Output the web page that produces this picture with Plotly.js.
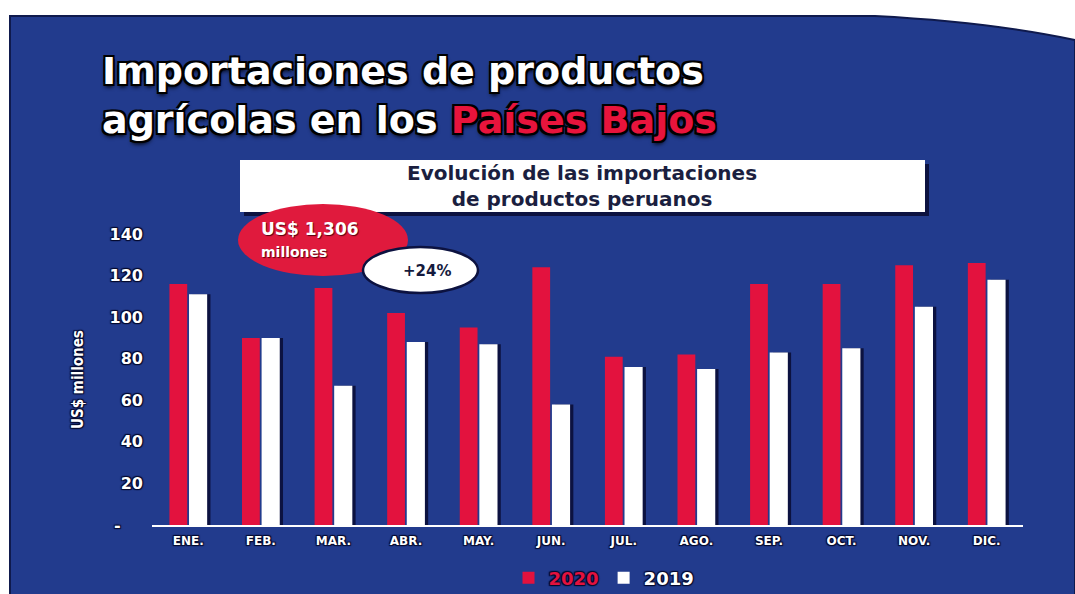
<!DOCTYPE html>
<html>
<head>
<meta charset="utf-8">
<script src="https://cdn.plot.ly/plotly-3.0.1.min.js"></script>
<style>
  html, body { margin: 0; padding: 0; background: #ffffff; }
  #chart { width: 1075px; height: 594px; }
</style>
</head>
<body>
<div id="chart"></div>
<script>
// ---- data ----
const months = ["ENE.", "FEB.", "MAR.", "ABR.", "MAY.", "JUN.", "JUL.", "AGO.", "SEP.", "OCT.", "NOV.", "DIC."];
const imports2020 = [116, 90, 114, 102, 95, 124, 81, 82, 116, 116, 125, 126];
const imports2019 = [111, 90, 67, 88, 87, 58, 76, 75, 83, 85, 105, 118];
const yTickVals = [0, 20, 40, 60, 80, 100, 120, 140];
const yTickText = ["-\u00a0\u00a0\u00a0\u00a0", "20", "40", "60", "80", "100", "120", "140"];

// ---- layout helpers (pixel -> paper) ----
const W = 1075, H = 594;
const M = { l: 152, r: 52, t: 234, b: 69, autoexpand: false };
const PW = W - M.l - M.r, PH = H - M.t - M.b;
const px = x => (x - M.l) / PW;
const py = y => (H - M.b - y) / PH;

const BLUE = "#223b8d";
const RED = "#e3123e";
const NAVY = "#0c1240";
const outline = "2px 2px 0 #000, -2px -2px 0 #000, 2px -2px 0 #000, -2px 2px 0 #000, 0 3px 4px #000";
const glow = "1px 1px 1px #050a2e, -1px -1px 1px #050a2e, 1px -1px 1px #050a2e, -1px 1px 1px #050a2e";

const traces = [
  {
    type: "bar", name: "<span style='color:" + RED + "'>2020</span>",
    x: months, y: imports2020,
    marker: { color: RED },
    offset: -0.26, width: 0.245,
    hoverinfo: "skip"
  },
  {
    type: "bar", name: "shadow", showlegend: false,
    x: months, y: imports2019,
    marker: { color: NAVY },
    offset: 0.055, width: 0.25,
    hoverinfo: "skip"
  },
  {
    type: "bar", name: "2019",
    x: months, y: imports2019,
    marker: { color: "#ffffff" },
    offset: 0.01, width: 0.25,
    hoverinfo: "skip"
  }
];

const shapes = [
  // blue background panel with cut top-right corner
  {
    type: "path", xref: "paper", yref: "paper", layer: "below",
    path: `M ${px(10)} ${py(16)} L ${px(875)} ${py(16)} Q ${px(990)} ${py(22)} ${px(1075)} ${py(40)} L ${px(1075)} ${py(596)} L ${px(10)} ${py(596)} Z`,
    fillcolor: BLUE, line: { color: "#0f1a4d", width: 2 }
  },
  // subtitle box shadow + box
  { type: "rect", xref: "paper", yref: "paper", x0: px(244), x1: px(929), y0: py(216), y1: py(164),
    fillcolor: NAVY, line: { width: 0 } },
  { type: "rect", xref: "paper", yref: "paper", x0: px(240), x1: px(925), y0: py(212), y1: py(160),
    fillcolor: "#ffffff", line: { width: 0 } },
  // red bubble
  { type: "circle", xref: "paper", yref: "paper", x0: px(238), x1: px(408), y0: py(276), y1: py(204),
    fillcolor: "#e01a3d", line: { width: 0 } },
  // white bubble
  { type: "circle", xref: "paper", yref: "paper", x0: px(363), x1: px(478), y0: py(293), y1: py(247),
    fillcolor: "#ffffff", line: { color: NAVY, width: 2.5 } }
];

const titleFont = { family: "DejaVu Sans, Arial Black, sans-serif", size: 38, color: "#ffffff", weight: 900, shadow: outline };
const subFont = { family: "DejaVu Sans, Arial, sans-serif", size: 20, color: "#1b1f3f", weight: 700 };

const annotations = [
  { xref: "paper", yref: "paper", x: px(100), y: py(96), xanchor: "left", yanchor: "middle", showarrow: false,
    align: "left",
    text: "Importaciones de productos<br>agrícolas en los <span style='color:#e8143c'>Países Bajos</span>",
    font: titleFont },
  { xref: "paper", yref: "paper", x: px(582), y: py(186), xanchor: "center", yanchor: "middle", showarrow: false,
    align: "center",
    text: "Evolución de las importaciones<br>de productos peruanos",
    font: subFont },
  { xref: "paper", yref: "paper", x: px(259), y: py(239), xanchor: "left", yanchor: "middle", showarrow: false,
    align: "left",
    text: "US$ 1,306<br><span style='font-size:14px'>millones</span>",
    font: { family: "DejaVu Sans, Arial, sans-serif", size: 17, color: "#ffffff", weight: 700, shadow: "1px 1px 1px #5a0010" } },
  { xref: "paper", yref: "paper", x: px(427), y: py(271), xanchor: "center", yanchor: "middle", showarrow: false,
    text: "+24%",
    font: { family: "DejaVu Sans, Arial, sans-serif", size: 15, color: "#151a3d", weight: 700 } }
];

const layout = {
  width: W, height: H,
  margin: M,
  paper_bgcolor: "#ffffff",
  plot_bgcolor: "rgba(0,0,0,0)",
  barmode: "overlay",
  showlegend: true,
  legend: {
    orientation: "h", x: px(604), xanchor: "center", y: py(578), yanchor: "middle",
    bgcolor: "rgba(0,0,0,0)",
    font: { family: "DejaVu Sans, Arial, sans-serif", size: 18, color: "#ffffff", weight: 700, shadow: glow },
    itemwidth: 30, traceorder: "normal"
  },
  xaxis: {
    type: "category",
    showline: true, linecolor: "#ffffff", linewidth: 2,
    showgrid: false, zeroline: false, ticks: "",
    ticklabelstandoff: 4,
    tickfont: { family: "DejaVu Sans, Arial, sans-serif", size: 12, color: "#ffffff", weight: 700, shadow: glow },
    fixedrange: true
  },
  yaxis: {
    range: [0, 140],
    tickvals: yTickVals, ticktext: yTickText,
    showline: false, showgrid: false, zeroline: false, ticks: "",
    ticklabelstandoff: 8,
    tickfont: { family: "DejaVu Sans, Arial, sans-serif", size: 16, color: "#ffffff", weight: 700, shadow: glow },
    title: {
      text: "US$ millones", standoff: 22,
      font: { family: "Liberation Sans Narrow, DejaVu Sans Condensed, sans-serif", size: 15, color: "#ffffff", weight: 700, shadow: glow }
    },
    fixedrange: true
  },
  shapes: shapes,
  annotations: annotations
};

Plotly.newPlot("chart", traces, layout, { displayModeBar: false, staticPlot: true });
</script>
</body>
</html>
